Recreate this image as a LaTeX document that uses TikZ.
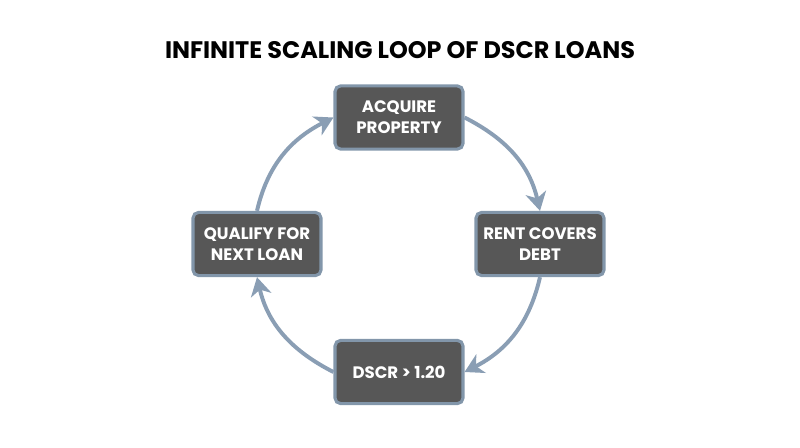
\documentclass[tikz,border=0pt]{standalone}
\usepackage{fontspec}
\setmainfont{Poppins}
\usetikzlibrary{arrows.meta}
\definecolor{boxfill}{RGB}{87,87,87}
\definecolor{boxline}{RGB}{130,150,170}
\definecolor{loopcolor}{RGB}{138,158,180}

\begin{document}
\begin{tikzpicture}[
    x=0.025cm, y=-0.025cm,
    stage/.style={rectangle, draw=boxline, line width=2.2pt, fill=boxfill, text=white, minimum width=3.2cm, minimum height=1.58cm, align=center, rounded corners=4pt, font=\bfseries\fontsize{11.8}{14.8}\selectfont},
    arrow/.style={-{Stealth[length=4.6mm, width=5.2mm, inset=1.4mm]}, line width=2.8pt, draw=loopcolor}
]
\useasboundingbox (0,0) rectangle (800,447);

% Title
\node[font=\bfseries\fontsize{17}{20}\selectfont] (title) at (400,50) {INFINITE SCALING LOOP OF DSCR LOANS};

% Stages
\node[stage] (acquire) at (399,117.5) {ACQUIRE\\PROPERTY};
\node[stage] (rent) at (540,244) {RENT COVERS\\DEBT};
\node[stage] (dscr) at (399,372) {DSCR > 1.20};
\node[stage] (qualify) at (257,244) {QUALIFY FOR\\NEXT LOAN};

% Arrows
\draw[arrow] (acquire.east) to[out=-27, in=103] (rent.north);
\draw[arrow] (rent.south) to[out=-103, in=27] (dscr.east);
\draw[arrow] (dscr.west) to[out=153, in=-77] (qualify.south);
\draw[arrow] (qualify.north) to[out=77, in=-153] (acquire.west);

\end{tikzpicture}
\end{document}
